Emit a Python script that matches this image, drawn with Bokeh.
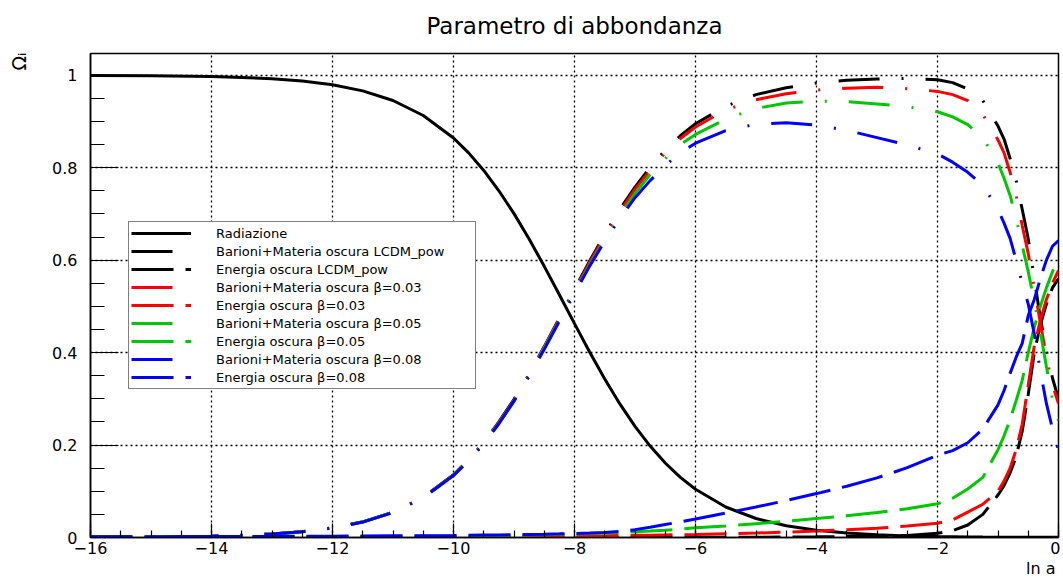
from bokeh.plotting import figure
from bokeh.models import (Range1d, FixedTicker, CustomJSTickFormatter, Legend,
                          LegendItem, Title)
from bokeh.embed import file_html
from bokeh.resources import INLINE

# ---------------- data ----------------
ln_a = [-16, -15, -14, -13.5, -13, -12.5, -12, -11.5, -11, -10.5,
        -10, -9.75, -9.5, -9.25, -9, -8.75, -8.5, -8.25, -8, -7.75,
        -7.5, -7.25, -7, -6.75, -6.5, -6.25, -6, -5.5, -5, -4.5,
        -4, -3.5, -3, -2.5, -2, -1.75, -1.5, -1.25, -1, -0.9,
        -0.8, -0.7, -0.6, -0.5, -0.4, -0.3, -0.2, -0.1, 0]

omega_rad = [0.9996, 0.9989, 0.9971, 0.9953, 0.9922, 0.9873, 0.9792, 0.9661, 0.9453, 0.9129,
             0.8642, 0.832, 0.794, 0.750, 0.7006, 0.6457, 0.5866, 0.525, 0.4626, 0.4013,
             0.343, 0.289, 0.2405, 0.1978, 0.1611, 0.130, 0.1043, 0.066, 0.0411, 0.0253,
             0.0155, 0.0095, 0.0058, 0.0035, 0.0021, 0.0017, 0.0013, 0.0010, 0.0008, 0.0007,
             0.0006, 0.0006, 0.0005, 0.0005, 0.0004, 0.0004, 0.0004, 0.0003, 0.0003]

omega_m_lcdm = [0.0004, 0.0011, 0.0029, 0.0047, 0.0078, 0.0127, 0.0208, 0.0339, 0.0547, 0.0871,
                0.1358, 0.168, 0.206, 0.25, 0.299, 0.354, 0.413, 0.475, 0.537, 0.598,
                0.656, 0.71, 0.758, 0.801, 0.838, 0.869, 0.895, 0.933, 0.958, 0.973,
                0.983, 0.989, 0.992, 0.993, 0.99, 0.984, 0.97, 0.945, 0.89, 0.862,
                0.82, 0.772, 0.71, 0.646, 0.56, 0.475, 0.405, 0.345, 0.30]

omega_de_lcdm = [0.0, 0.0, 0.0, 0.0, 0.0, 0.0, 0.0, 0.0, 0.0, 0.0,
                 0.0, 0.0, 0.0, 0.0, 0.0, 0.0, 0.0, 0.0, 0.0001, 0.0001,
                 0.0001, 0.0001, 0.0001, 0.0002, 0.0002, 0.0002, 0.0003, 0.0004, 0.0006, 0.0009,
                 0.0014, 0.002, 0.003, 0.0045, 0.009, 0.015, 0.027, 0.05, 0.092, 0.112,
                 0.14, 0.175, 0.23, 0.31, 0.40, 0.46, 0.505, 0.54, 0.56]

omega_m_b003 = [0.0004, 0.0011, 0.0029, 0.0047, 0.0078, 0.0127, 0.0207, 0.0338, 0.0545, 0.0868,
                0.1352, 0.167, 0.205, 0.249, 0.297, 0.352, 0.412, 0.473, 0.534, 0.595,
                0.652, 0.705, 0.753, 0.795, 0.832, 0.863, 0.888, 0.925, 0.947, 0.96,
                0.968, 0.972, 0.974, 0.971, 0.965, 0.958, 0.945, 0.915, 0.86, 0.832,
                0.79, 0.74, 0.675, 0.614, 0.54, 0.465, 0.39, 0.33, 0.29]

omega_de_b003 = [0.0003, 0.0004, 0.0005, 0.0006, 0.0007, 0.0008, 0.0009, 0.001, 0.0011, 0.0013,
                 0.0015, 0.0017, 0.0019, 0.002, 0.0022, 0.0025, 0.0027, 0.003, 0.0032, 0.0035,
                 0.0038, 0.0042, 0.0046, 0.005, 0.0055, 0.006, 0.0066, 0.008, 0.0095, 0.0115,
                 0.014, 0.017, 0.02, 0.025, 0.031, 0.038, 0.055, 0.072, 0.10, 0.122,
                 0.15, 0.19, 0.245, 0.33, 0.415, 0.47, 0.515, 0.55, 0.578]

omega_m_b005 = [0.0004, 0.0011, 0.0028, 0.0046, 0.0077, 0.0126, 0.0206, 0.0336, 0.0543, 0.0865,
                0.1347, 0.166, 0.204, 0.247, 0.295, 0.350, 0.41, 0.47, 0.53, 0.59,
                0.645, 0.697, 0.744, 0.785, 0.82, 0.85, 0.872, 0.905, 0.928, 0.94,
                0.944, 0.943, 0.938, 0.932, 0.921, 0.91, 0.893, 0.865, 0.81, 0.777,
                0.74, 0.69, 0.632, 0.575, 0.51, 0.445, 0.37, 0.30, 0.253]

omega_de_b005 = [0.0008, 0.001, 0.0012, 0.0013, 0.0015, 0.0017, 0.0019, 0.0021, 0.0024, 0.0028,
                 0.0032, 0.0035, 0.0039, 0.0043, 0.0048, 0.0054, 0.006, 0.0068, 0.0077, 0.0087,
                 0.0098, 0.011, 0.0125, 0.014, 0.0158, 0.018, 0.021, 0.025, 0.03, 0.035,
                 0.041, 0.047, 0.054, 0.062, 0.073, 0.085, 0.105, 0.13, 0.19, 0.22,
                 0.255, 0.296, 0.34, 0.40, 0.455, 0.50, 0.54, 0.575, 0.603]

omega_m_b008 = [0.0004, 0.0011, 0.0028, 0.0045, 0.0076, 0.0124, 0.0203, 0.0332, 0.054, 0.086,
                0.134, 0.166, 0.203, 0.246, 0.295, 0.349, 0.407, 0.468, 0.528, 0.587,
                0.641, 0.69, 0.735, 0.772, 0.805, 0.832, 0.853, 0.88, 0.894, 0.897,
                0.892, 0.881, 0.865, 0.849, 0.83, 0.812, 0.79, 0.762, 0.71, 0.68,
                0.647, 0.60, 0.55, 0.505, 0.44, 0.36, 0.29, 0.235, 0.188]

omega_de_b008 = [0.0015, 0.0018, 0.002, 0.0022, 0.0024, 0.0026, 0.0029, 0.0032, 0.0036, 0.004,
                 0.0045, 0.0048, 0.0052, 0.0056, 0.006, 0.0066, 0.0072, 0.0079, 0.0087, 0.0098,
                 0.011, 0.013, 0.017, 0.022, 0.028, 0.034, 0.04, 0.053, 0.066, 0.08,
                 0.095, 0.111, 0.129, 0.151, 0.178, 0.188, 0.205, 0.235, 0.287, 0.318,
                 0.355, 0.39, 0.42, 0.48, 0.515, 0.56, 0.60, 0.63, 0.642]

x_major = [-16, -14, -12, -10, -8, -6, -4, -2, 0]
y_major = [0, 0.2, 0.4, 0.6, 0.8, 1.0]

labels = ["Radiazione",
          "Barioni+Materia oscura LCDM_pow",
          "Energia oscura LCDM_pow",
          "Barioni+Materia oscura \u03b2=0.03",
          "Energia oscura \u03b2=0.03",
          "Barioni+Materia oscura \u03b2=0.05",
          "Energia oscura \u03b2=0.05",
          "Barioni+Materia oscura \u03b2=0.08",
          "Energia oscura \u03b2=0.08"]

FONT = "DejaVu Sans"

# ---------------- figure ----------------
p = figure(width=1060, height=584, output_backend="svg", toolbar_location=None,
           x_range=Range1d(-16, 0), y_range=Range1d(0, 1.047),
           min_border_left=90, min_border_right=2, min_border_top=53,
           min_border_bottom=47,
           title="Parametro di abbondanza")
p.title.align = "center"
p.title.vertical_align = "top"
p.title.standoff = 25
p.title.text_font = FONT
p.title.text_font_size = "23px"
p.title.text_font_style = "normal"
p.title.text_color = "black"

p.outline_line_color = "black"
p.outline_line_width = 1.5
p.background_fill_color = "white"
p.border_fill_color = "white"

xt = FixedTicker(ticks=x_major, minor_ticks=[-16 + 0.5 * i for i in range(33)])
yt = FixedTicker(ticks=y_major, minor_ticks=[0.05 * i for i in range(21)])
p.xaxis.ticker = xt
p.yaxis.ticker = yt
p.xgrid.ticker = xt
p.ygrid.ticker = yt

p.xaxis.formatter = CustomJSTickFormatter(
    code="return tick < 0 ? '\\u2212' + Math.abs(tick) : String(tick);")
p.yaxis.formatter = CustomJSTickFormatter(
    code="if (Math.abs(tick) < 1e-9) return '0'; if (Math.abs(tick-1) < 1e-9) return '1'; return tick.toFixed(1);")

for ax in (p.xaxis[0], p.yaxis[0]):
    ax.axis_line_color = "black"
    ax.axis_line_width = 1.5
    ax.major_tick_line_color = "black"
    ax.minor_tick_line_color = "black"
    ax.major_tick_line_width = 1.2
    ax.minor_tick_line_width = 1.2
    ax.major_tick_out = 0
    ax.minor_tick_out = 0
    ax.major_label_text_font = FONT
    ax.major_label_text_font_size = "16px"
    ax.major_label_text_color = "black"

p.xaxis.major_tick_in = 14
p.xaxis.minor_tick_in = 7
p.xaxis.major_label_standoff = 4
p.yaxis.major_tick_in = 28
p.yaxis.minor_tick_in = 14
p.yaxis.major_label_standoff = 13

for g in (p.xgrid[0], p.ygrid[0]):
    g.grid_line_color = "black"
    g.grid_line_width = 1.3
    g.grid_line_dash = "2 3"

# ---------------- curves ----------------
DASHDOT = "41 22 2 22"
DASHED = "42 12"
LW = 3

series = [
    (omega_rad, "black", "solid"),
    (omega_m_lcdm, "black", DASHDOT),
    (omega_de_lcdm, "black", DASHED),
    (omega_m_b003, "#ff0000", DASHDOT),
    (omega_de_b003, "#ff0000", DASHED),
    (omega_m_b005, "#00c800", DASHDOT),
    (omega_de_b005, "#00c800", DASHED),
    (omega_m_b008, "#0000ff", DASHDOT),
    (omega_de_b008, "#0000ff", DASHED),
]

items = []
for (ys, col, dash), lab in zip(series, labels):
    r = p.line(ln_a, ys, line_color=col, line_width=LW, line_dash=dash)
    items.append(LegendItem(label=lab, renderers=[r]))

legend = Legend(items=items, location=(38, 148))
legend.label_text_font = FONT
legend.label_text_font_size = "13px"
legend.label_text_color = "black"
legend.glyph_width = 60
legend.glyph_height = 18
legend.label_height = 18
legend.label_width = 257
legend.label_standoff = 25
legend.spacing = 0
legend.padding = 2
legend.margin = 0
legend.border_line_color = "black"
legend.border_line_width = 1.2
legend.background_fill_color = "white"
legend.background_fill_alpha = 1.0
p.add_layout(legend)

# ---------------- axis titles (as side titles, outside the frame) ----------------
t_ln = Title(text="ln a", align="right", text_font=FONT, text_font_size="16px",
             text_font_style="normal", text_color="black", standoff=0, offset=3)
p.add_layout(t_ln, "below")
spacer = Title(text=" ", align="right", text_font=FONT, text_font_size="10px",
               standoff=0)
p.add_layout(spacer, "left")
t_om = Title(text="\u03a9\u1d62", align="right", vertical_align="top",
             text_font=FONT, text_font_size="19px",
             text_font_style="normal", text_color="black", standoff=10, offset=-1)
p.add_layout(t_om, "left")

open("out.html", "w").write(file_html(p, INLINE))
